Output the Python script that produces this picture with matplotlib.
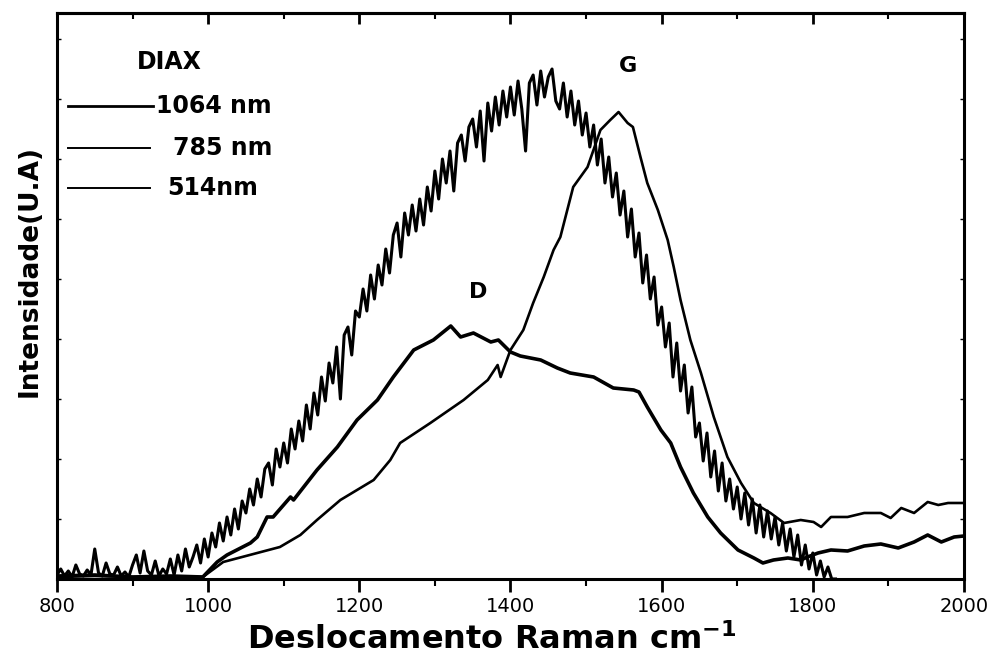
import numpy as np
import matplotlib
matplotlib.use('Agg')
import matplotlib.pyplot as plt
from matplotlib.ticker import MultipleLocator

plt.rcParams['font.family'] = ['DejaVu Sans']

# 1064 nm - espectro ruidoso, passo de 5 cm-1 (800 a 1830)
x_1064 = np.arange(800, 1835, 5)
y_1064 = [
    4, 10, 3, 8, 2, 14, 5, 3, 9, 4,
    30, 6, 3, 16, 5, 4, 12, 3, 7, 2,
    14, 24, 6, 28, 8, 4, 18, 3, 10, 5,
    20, 4, 24, 8, 30, 12, 22, 34, 16, 40,
    22, 46, 32, 56, 38, 62, 44, 70, 50, 78,
    66, 90, 74, 100, 82, 110, 116, 94, 130, 112,
    136, 116, 150, 130, 158, 138, 174, 150, 186, 164,
    202, 178, 216, 196, 232, 180, 244, 252, 224, 268,
    262, 290, 268, 304, 280, 314, 294, 330, 306, 344,
    356, 322, 366, 344, 374, 348, 380, 354, 392, 368,
    408, 380, 420, 396, 428, 388, 436, 444, 418, 452,
    460, 432, 468, 418, 476, 448, 482, 454, 488, 462,
    492, 464, 498, 470, 428, 496, 504, 474, 508, 482,
    502, 510, 478, 470, 496, 462, 488, 454, 478, 444,
    466, 432, 454, 414, 440, 396, 422, 382, 406, 364,
    388, 342, 370, 322, 346, 296, 324, 280, 302, 254,
    272, 232, 256, 202, 236, 188, 214, 166, 192, 142,
    156, 118, 146, 102, 128, 88, 116, 78, 100, 70,
    92, 60, 86, 54, 80, 46, 74, 42, 68, 40,
    62, 34, 56, 28, 50, 22, 44, 14, 34, 10,
    26, 4, 18, 2, 12, 0, 0,
]

# 785 nm - banda D
x_785 = [800, 850, 900, 950, 993, 1012, 1025, 1056, 1065, 1078, 1086, 1109, 1113,
         1144, 1171, 1197, 1224, 1245, 1272, 1298, 1321, 1334, 1351, 1374, 1384,
         1400, 1413, 1440, 1462, 1479, 1510, 1536, 1563, 1570, 1581, 1599, 1612,
         1625, 1642, 1661, 1678, 1701, 1722, 1734, 1748, 1767, 1784, 1793, 1807,
         1824, 1846, 1868, 1890, 1913, 1934, 1952, 1970, 1987, 2000]
y_785 = [3, 4, 2, 3, 2, 17, 24, 36, 42, 62, 62, 82, 79,
         109, 132, 159, 179, 202, 229, 239, 253, 242, 246, 237, 239,
         227, 223, 219, 211, 206, 202, 191, 189, 187, 172, 149, 136,
         112, 86, 62, 46, 29, 21, 16, 19, 21, 19, 22, 26,
         29, 28, 33, 35, 31, 37, 44, 37, 42, 43]

# 514 nm - banda G
x_514 = [800, 850, 900, 950, 993, 1020, 1065, 1095, 1122, 1144, 1175, 1219, 1241,
         1254, 1294, 1338, 1370, 1383, 1387, 1400, 1417, 1430, 1444, 1457, 1466,
         1483, 1502, 1519, 1532, 1543, 1555, 1562, 1572, 1581, 1595, 1608, 1616,
         1625, 1638, 1652, 1669, 1687, 1705, 1722, 1744, 1762, 1784, 1801, 1811,
         1824, 1846, 1868, 1890, 1903, 1917, 1934, 1952, 1966, 1979, 2000]
y_514 = [2, 3, 2, 2, 2, 17, 26, 32, 44, 59, 79, 99, 119,
         136, 156, 179, 199, 214, 202, 229, 249, 276, 302, 329, 342,
         392, 412, 449, 459, 467, 456, 452, 422, 396, 369, 339, 312,
         279, 239, 206, 162, 122, 96, 76, 66, 56, 59, 57, 52,
         62, 62, 66, 66, 61, 71, 66, 77, 74, 76, 76]

fig = plt.figure(figsize=(9.94, 6.54), dpi=100)
ax = fig.add_axes([0.0573, 0.1147, 0.9125, 0.8654])

ax.plot(x_1064, y_1064, color='black', lw=2.2)
ax.plot(x_785, y_785, color='black', lw=2.6)
ax.plot(x_514, y_514, color='black', lw=1.9)

ax.set_xlim(800, 2000)
ax.set_ylim(0, 566)

ax.xaxis.set_major_locator(MultipleLocator(200))
ax.xaxis.set_minor_locator(MultipleLocator(100))
ax.yaxis.set_major_locator(MultipleLocator(60))
ax.tick_params(axis='x', which='major', direction='out', length=9, width=2,
               labelsize=14, pad=4)
ax.tick_params(axis='x', which='minor', direction='out', length=5, width=1.5)
ax.tick_params(axis='y', which='major', direction='in', length=3, width=1,
               left=True, right=True, labelleft=False)
for s in ax.spines.values():
    s.set_linewidth(2.2)

# ticks do topo para dentro
top = ax.secondary_xaxis('top')
top.xaxis.set_major_locator(MultipleLocator(200))
top.xaxis.set_minor_locator(MultipleLocator(100))
top.tick_params(which='major', direction='in', length=8, width=2, labeltop=False)
top.tick_params(which='minor', direction='in', length=4, width=1.5)
top.spines['top'].set_linewidth(2.2)

ax.set_xlabel(r'Deslocamento Raman cm$^{\mathbf{-1}}$', fontsize=23,
              fontweight='bold')
ax.xaxis.set_label_coords(0.479, -0.078)
ax.set_ylabel('Intensidade(U.A)', fontsize=19, fontweight='bold')
ax.yaxis.set_label_coords(-0.016, 0.545)

# rótulos das bandas
ax.text(1357, 287, 'D', fontsize=16, fontweight='bold', ha='center', va='center')
ax.text(1556, 513, 'G', fontsize=16, fontweight='bold', ha='center', va='center')

# legenda manual
tr = ax.transAxes
ax.text(0.088, 0.913, 'DIAX', transform=tr, fontsize=17, fontweight='bold',
        va='center')
ax.plot([0.012, 0.106], [0.836, 0.836], transform=tr, color='black', lw=2.0)
ax.text(0.109, 0.836, '1064 nm', transform=tr, fontsize=17, fontweight='bold',
        va='center')
ax.plot([0.012, 0.103], [0.761, 0.761], transform=tr, color='black', lw=1.4)
ax.text(0.128, 0.761, '785 nm', transform=tr, fontsize=17, fontweight='bold',
        va='center')
ax.plot([0.012, 0.103], [0.691, 0.691], transform=tr, color='black', lw=1.4)
ax.text(0.122, 0.691, '514nm', transform=tr, fontsize=17, fontweight='bold',
        va='center')

fig.savefig('out.png', dpi=100)
